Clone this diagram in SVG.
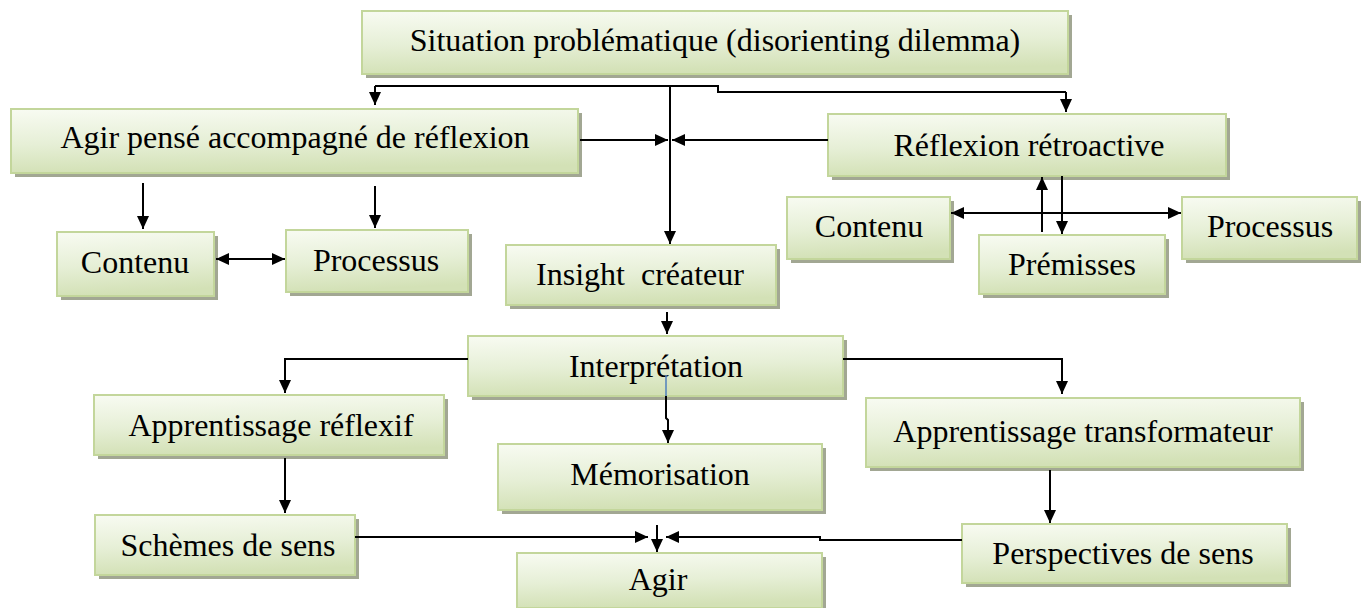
<svg xmlns="http://www.w3.org/2000/svg" width="1366" height="608" viewBox="0 0 1366 608">
  <defs>
    <linearGradient id="boxFill" x1="0" y1="0" x2="0.15" y2="1">
      <stop offset="0" stop-color="#f8fbf2"/>
      <stop offset="0.55" stop-color="#e6efd6"/>
      <stop offset="1" stop-color="#d3e1b6"/>
    </linearGradient>
    <marker id="arrow" markerUnits="userSpaceOnUse" markerWidth="13" markerHeight="12" refX="13" refY="6" orient="auto-start-reverse">
      <path d="M0,0 L13,6 L0,12 z" fill="#000"/>
    </marker>
    <style>
      .shadow { fill: #a2a793; }
      .box { fill: url(#boxFill); stroke: #c3d69b; stroke-width: 2; }
      .label { font-family: "Liberation Serif", "Times New Roman", serif; font-size: 32px; fill: #000; text-anchor: middle; }
      .wire { fill: none; stroke: #000; stroke-width: 2; }
      .arr { fill: none; stroke: #000; stroke-width: 2; marker-end: url(#arrow); }
      .both { fill: none; stroke: #000; stroke-width: 2; marker-start: url(#arrow); marker-end: url(#arrow); }
    </style>
  </defs>

  <!-- nodes -->
  <g id="situation">
    <rect class="shadow" x="366" y="15" width="706" height="63"/>
    <rect class="box" x="362" y="11" width="706" height="63"/>
    <text class="label" x="715" y="51">Situation problématique (disorienting dilemma)</text>
  </g>
  <g id="agir-pense">
    <rect class="shadow" x="15" y="113" width="567" height="64"/>
    <rect class="box" x="11" y="109" width="567" height="64"/>
    <text class="label" x="295" y="148">Agir pensé accompagné de réflexion</text>
  </g>
  <g id="reflexion-retroactive">
    <rect class="shadow" x="832" y="118" width="398" height="62"/>
    <rect class="box" x="828" y="114" width="398" height="62"/>
    <text class="label" x="1029" y="156">Réflexion rétroactive</text>
  </g>
  <g id="contenu-gauche">
    <rect class="shadow" x="61" y="236" width="157" height="64"/>
    <rect class="box" x="57" y="232" width="157" height="64"/>
    <text class="label" x="135" y="273">Contenu</text>
  </g>
  <g id="processus-gauche">
    <rect class="shadow" x="290" y="234" width="182" height="62"/>
    <rect class="box" x="286" y="230" width="182" height="62"/>
    <text class="label" x="376" y="271">Processus</text>
  </g>
  <g id="insight">
    <rect class="shadow" x="510" y="249" width="270" height="60"/>
    <rect class="box" x="506" y="245" width="270" height="60"/>
    <text class="label" x="640" y="285" xml:space="preserve">Insight  créateur</text>
  </g>
  <g id="contenu-droite">
    <rect class="shadow" x="791" y="201" width="163" height="62"/>
    <rect class="box" x="787" y="197" width="163" height="62"/>
    <text class="label" x="869" y="237">Contenu</text>
  </g>
  <g id="premisses">
    <rect class="shadow" x="983" y="239" width="186" height="59"/>
    <rect class="box" x="979" y="235" width="186" height="59"/>
    <text class="label" x="1072" y="275">Prémisses</text>
  </g>
  <g id="processus-droite">
    <rect class="shadow" x="1186" y="201" width="175" height="62"/>
    <rect class="box" x="1182" y="197" width="175" height="62"/>
    <text class="label" x="1270" y="237">Processus</text>
  </g>
  <g id="interpretation">
    <rect class="shadow" x="472" y="340" width="375" height="60"/>
    <rect class="box" x="468" y="336" width="375" height="60"/>
    <text class="label" x="656" y="377">Interprétation</text>
  </g>
  <g id="apprentissage-reflexif">
    <rect class="shadow" x="98" y="399" width="350" height="60"/>
    <rect class="box" x="94" y="395" width="350" height="60"/>
    <text class="label" x="271" y="436">Apprentissage réflexif</text>
  </g>
  <g id="memorisation">
    <rect class="shadow" x="502" y="448" width="324" height="66"/>
    <rect class="box" x="498" y="444" width="324" height="66"/>
    <text class="label" x="660" y="485">Mémorisation</text>
  </g>
  <g id="apprentissage-transformateur">
    <rect class="shadow" x="870" y="402" width="434" height="69"/>
    <rect class="box" x="866" y="398" width="434" height="69"/>
    <text class="label" x="1083" y="442">Apprentissage transformateur</text>
  </g>
  <g id="schemes">
    <rect class="shadow" x="99" y="519" width="260" height="60"/>
    <rect class="box" x="95" y="515" width="260" height="60"/>
    <text class="label" x="228" y="556">Schèmes de sens</text>
  </g>
  <g id="agir">
    <rect class="shadow" x="521" y="557" width="305" height="55"/>
    <rect class="box" x="517" y="553" width="305" height="55"/>
    <text class="label" x="658" y="590">Agir</text>
  </g>
  <g id="perspectives">
    <rect class="shadow" x="966" y="528" width="325" height="59"/>
    <rect class="box" x="962" y="524" width="325" height="59"/>
    <text class="label" x="1123" y="564">Perspectives de sens</text>
  </g>

  <!-- connectors -->
  <g id="connectors">
    <polyline class="wire" points="375,86 718,86 718,92 1066,92"/>
    <line class="arr" x1="375" y1="86" x2="375" y2="105"/>
    <line class="arr" x1="1066" y1="92" x2="1066" y2="112"/>
    <line class="arr" x1="670" y1="86" x2="670" y2="244"/>
    <line class="arr" x1="580" y1="140" x2="668" y2="140"/>
    <line class="arr" x1="828" y1="140" x2="672" y2="140"/>
    <line class="arr" x1="143" y1="183" x2="143" y2="229"/>
    <line class="arr" x1="375" y1="186" x2="375" y2="228"/>
    <line class="both" x1="216" y1="259" x2="285" y2="259"/>
    <line class="arr" x1="1042" y1="232" x2="1042" y2="177"/>
    <line class="arr" x1="1062" y1="176" x2="1062" y2="234"/>
    <line class="both" x1="951" y1="213" x2="1181" y2="213"/>
    <line class="arr" x1="667" y1="312" x2="667" y2="334"/>
    <polyline class="arr" points="468,359 285,359 285,393"/>
    <polyline class="arr" points="843,359 1062,359 1062,394"/>
    <line x1="666" y1="375" x2="666" y2="396" stroke="#4f81bd" stroke-width="1.5"/>
    <polyline class="arr" points="666,396 666,418 668,420 668,443"/>
    <line class="arr" x1="285" y1="458" x2="285" y2="513"/>
    <line class="arr" x1="1050" y1="470" x2="1050" y2="523"/>
    <line class="arr" x1="355" y1="537" x2="648" y2="537"/>
    <line class="arr" x1="657" y1="525" x2="657" y2="552"/>
    <polyline class="arr" points="962,540 820,540 820,537 666,537"/>
  </g>
</svg>
